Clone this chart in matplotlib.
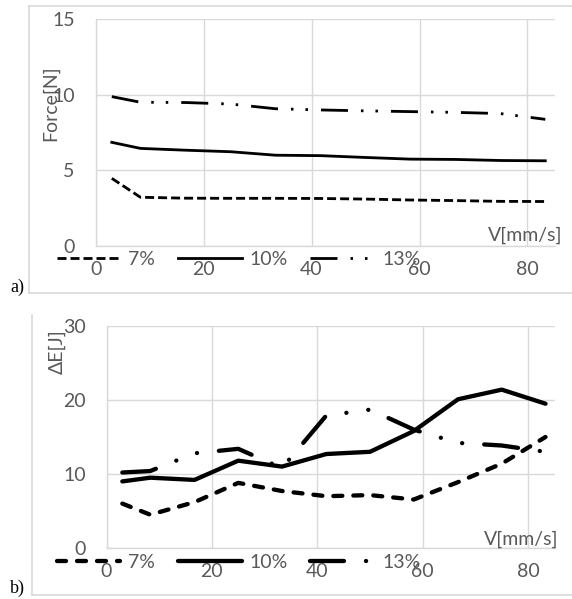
import numpy as np
import matplotlib
matplotlib.use('Agg')
import matplotlib.pyplot as plt
from matplotlib.lines import Line2D

# 数据：速度 V[mm/s]
speed = [3, 8.3, 16.7, 25, 33.3, 41.7, 50, 58.3, 66.7, 75, 83.3]
series_names = ['7%', '10%', '13%']

# a) Force[N]
force_7 = [4.47, 3.22, 3.16, 3.15, 3.15, 3.14, 3.1, 3.04, 3.0, 2.95, 2.94]
force_10 = [6.85, 6.45, 6.33, 6.23, 6.0, 5.97, 5.85, 5.74, 5.72, 5.65, 5.63]
force_13 = [9.87, 9.5, 9.48, 9.38, 9.07, 8.99, 8.93, 8.88, 8.83, 8.75, 8.37]

# b) ΔE[J]
energy_7 = [6.0, 4.5, 6.2, 8.8, 7.7, 7.0, 7.15, 6.55, 8.9, 11.4, 15.0]
energy_10 = [9.0, 9.5, 9.2, 11.8, 11.0, 12.7, 13.0, 15.8, 20.1, 21.4, 19.5]
energy_13 = [10.2, 10.4, 12.8, 13.4, 10.8, 17.9, 18.7, 16.0, 14.2, 13.85, 13.0]

x_ticks = [0, 20, 40, 60, 80]
force_ticks = [0, 5, 10, 15]
energy_ticks = [0, 10, 20, 30]

plt.rcParams['font.family'] = ['Lato', 'DejaVu Sans']
plt.rcParams['lines.scale_dashes'] = False

TXT = '#595959'
GRID = '#d9d9d9'
FS = 14

fig = plt.figure(figsize=(5.72, 5.99), dpi=100)


def px(v):
    # 像素 -> 磅
    return v * 0.72


def setup_axes(ax, ylim, yticks, ylabel, ylabel_pos, vpos):
    ax.set_xlim(0, 85.1)
    ax.set_ylim(*ylim)
    ax.set_xticks(x_ticks)
    ax.set_yticks(yticks)
    ax.grid(True, color=GRID, lw=1.0)
    ax.set_axisbelow(True)
    for s in ['top', 'right']:
        ax.spines[s].set_visible(False)
    for s in ['left', 'bottom']:
        ax.spines[s].set_color(GRID)
        ax.spines[s].set_linewidth(1.0)
    ax.tick_params(length=0, labelsize=FS, colors=TXT)
    ax.tick_params(axis='x', pad=11)
    ax.tick_params(axis='y', pad=15)
    ax.text(ylabel_pos[0], ylabel_pos[1], ylabel, transform=ax.transAxes,
            rotation=90, ha='center', va='center', fontsize=FS, color=TXT)
    ax.text(vpos[0], vpos[1], 'V[mm/s]', transform=ax.transAxes,
            ha='right', va='center', fontsize=FS, color=TXT)


# =====================================================================
# a) 力
# =====================================================================
ax1 = fig.add_axes([95.6 / 572, 1 - 246 / 599, (555 - 95.6) / 572, 227 / 599])
lw1 = px(2.8)
ax1.plot(speed, force_7, color='black', lw=lw1, dashes=(px(9), px(4)), label=series_names[0])
ax1.plot(speed, force_10, color='black', lw=lw1, label=series_names[1])
ax1.plot(speed, force_13, color='black', lw=lw1,
         dashes=(px(27), px(13), px(2.5), px(12), px(2.5), px(13)), label=series_names[2])
setup_axes(ax1, (0, 15), force_ticks, 'Force[N]', (-0.099, 0.63), (1.016, 0.048))

# =====================================================================
# b) 能量
# =====================================================================
ax2 = fig.add_axes([106.5 / 572, 1 - 548 / 599, (555 - 106.5) / 572, 222 / 599])
lw2 = px(4.3)
ax2.plot(speed, energy_7, color='black', lw=lw2, dash_capstyle='round',
         dashes=(px(9), px(11)), label=series_names[0])
ax2.plot(speed, energy_10, color='black', lw=lw2, solid_capstyle='round', label=series_names[1])
ax2.plot(speed, energy_13, color='black', lw=lw2, dash_capstyle='round',
         dashes=(px(34), px(22), px(0.1), px(22), px(0.1), px(22)), label=series_names[2])
setup_axes(ax2, (0, 30), energy_ticks, 'ΔE[J]', (-0.111, 0.883), (1.007, 0.04))

# 图例放在坐标轴下方
for ax, yc in [(ax1, 259), (ax2, 562)]:
    h, l = ax.get_legend_handles_labels()
    fig.legend(h, l, loc='center left', bbox_to_anchor=(56.5 / 572, 1 - yc / 599),
               ncol=3, frameon=False, fontsize=FS, labelcolor=TXT,
               handlelength=3.29, handletextpad=0.41, columnspacing=1.15,
               borderpad=0, borderaxespad=0)

# 外框
fig.add_artist(Line2D([29 / 572, 1.01], [1 - 6 / 599] * 2, color=GRID, lw=1.2, transform=fig.transFigure))
fig.add_artist(Line2D([29 / 572, 1.01], [1 - 293 / 599] * 2, color=GRID, lw=1.2, transform=fig.transFigure))
fig.add_artist(Line2D([29 / 572] * 2, [1 - 6 / 599, 1 - 293 / 599], color=GRID, lw=1.2, transform=fig.transFigure))
fig.add_artist(Line2D([32 / 572] * 2, [1 - 315 / 599, 1 - 595 / 599], color=GRID, lw=1.2, transform=fig.transFigure))
fig.add_artist(Line2D([32 / 572, 1.01], [1 - 595 / 599] * 2, color=GRID, lw=1.2, transform=fig.transFigure))

fig.text(10 / 572, 1 - 287 / 599, 'a)', family='Liberation Serif', fontsize=13, va='center')
fig.text(10 / 572, 1 - 588 / 599, 'b)', family='Liberation Serif', fontsize=13, va='center')

fig.savefig('out.png', dpi=100)
